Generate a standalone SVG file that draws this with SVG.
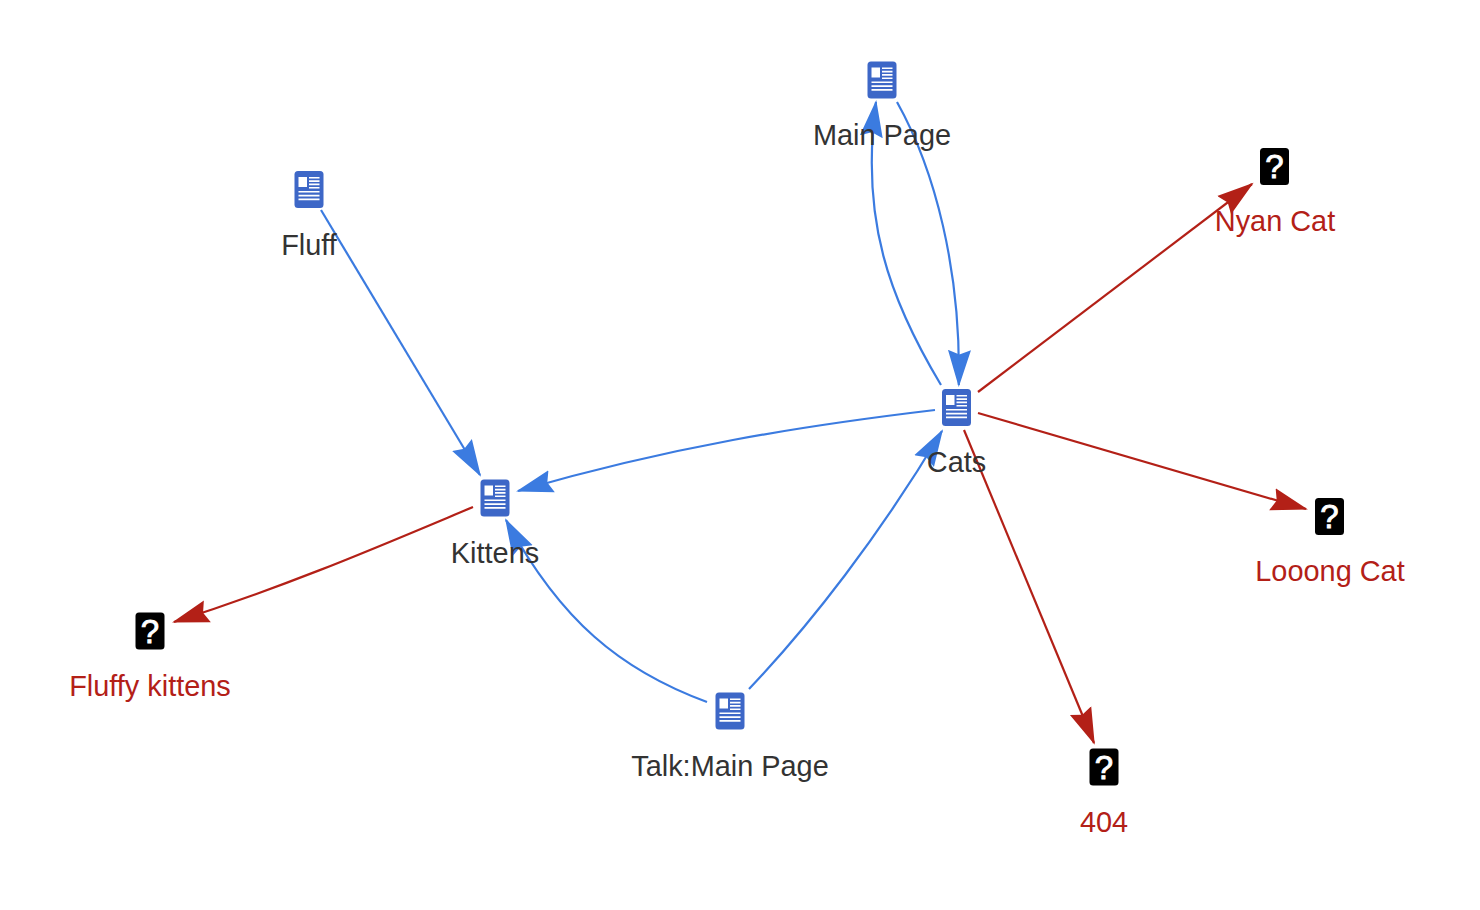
<svg xmlns="http://www.w3.org/2000/svg" width="1480" height="910" viewBox="0 0 1480 910">
<style>
text{font-family:"Liberation Sans",Arial,sans-serif;font-size:28.900px;text-anchor:middle}
.ok{fill:#333}
.bad{fill:#b32017}
.c{fill:none;stroke-width:2.200}
.b{stroke:#3b7be0;marker-end:url(#ab)}
.r{stroke:#b32017;marker-end:url(#ar)}
.q{fill:#fff;stroke:#fff;stroke-width:.9px;font-size:33px}
</style>
<defs>
<marker id="ab" markerUnits="userSpaceOnUse" orient="auto" markerWidth="40" markerHeight="30" refX="35" refY="15" viewBox="0 0 40 30"><path d="M37,15L0,3.500L4.500,15L0,26.500Z" fill="#3b7be0"/></marker>
<marker id="ar" markerUnits="userSpaceOnUse" orient="auto" markerWidth="40" markerHeight="30" refX="35" refY="15" viewBox="0 0 40 30"><path d="M37,15L0,3.500L4.500,15L0,26.500Z" fill="#b32017"/></marker>
<g id="page">
<rect x="-14.500" y="-18.500" width="29" height="37" rx="3.500" fill="#3d67c7"/>
<path d="M-10.500,-12.500h8.500v10h-8.500zM0,-12.500h10.500v1.600H0zM0,-9.200h10.500v1.600H0zM0,-5.900h10.500v1.600H0zM0,-2.600h10.500v1.600H0zM-10.500,1.500h21v1.600h-21zM-10.500,5.300h21v1.600h-21zM-10.500,9.100h21v1.600h-21z" fill="#fff"/>
</g>
<rect id="miss" x="-14.500" y="-18.500" width="29" height="37" rx="3.500" fill="#000"/>
</defs>
<g id="connectors">
<path class="c b" d="M321,210L480,475"/>
<path class="c b" d="M897,102C935,170 961,270 958.800,385"/>
<path class="c b" d="M941,385C890,300 860,220 876,102"/>
<path class="c b" d="M935,410C800,426 670,447 518,491"/>
<path class="c b" d="M707,702C620,670 560,620 506,520"/>
<path class="c b" d="M749,689C810,625 880,535 942,431"/>
<path class="c r" d="M978,392L1252,184"/>
<path class="c r" d="M978,413L1306,509"/>
<path class="c r" d="M964,430L1094,743"/>
<path class="c r" d="M473,507C380,546 290,585 174,622"/>
</g>
<g id="main-page"><use href="#page" x="882" y="80"/><text class="ok" x="882" y="145">Main Page</text></g>
<g id="fluff"><use href="#page" x="309" y="189.500"/><text class="ok" x="309" y="255">Fluff</text></g>
<g id="cats"><use href="#page" x="956.500" y="407.500"/><text class="ok" x="956.500" y="472">Cats</text></g>
<g id="kittens"><use href="#page" x="495" y="498"/><text class="ok" x="495" y="563">Kittens</text></g>
<g id="talk-main-page"><use href="#page" x="730" y="711"/><text class="ok" x="730" y="776">Talk:Main Page</text></g>
<g id="nyan-cat"><use href="#miss" x="1274.500" y="166.500"/><text class="q" x="1274.500" y="178">?</text><text class="bad" x="1275" y="231">Nyan Cat</text></g>
<g id="looong-cat"><use href="#miss" x="1329.500" y="516.500"/><text class="q" x="1329.500" y="528">?</text><text class="bad" x="1330" y="581">Looong Cat</text></g>
<g id="missing-404"><use href="#miss" x="1104" y="767"/><text class="q" x="1104" y="778.500">?</text><text class="bad" x="1104" y="832">404</text></g>
<g id="fluffy-kittens"><use href="#miss" x="150" y="631"/><text class="q" x="150" y="642.500">?</text><text class="bad" x="150" y="696">Fluffy kittens</text></g>
</svg>
